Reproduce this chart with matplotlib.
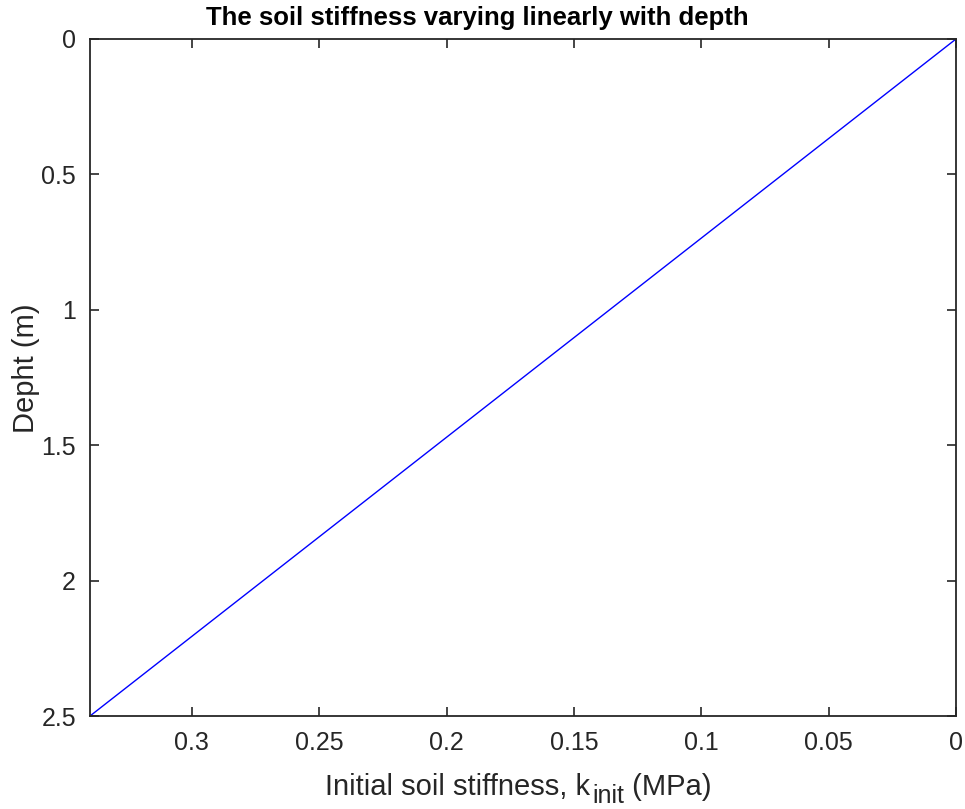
import numpy as np
import matplotlib
matplotlib.use('Agg')
import matplotlib.pyplot as plt
from matplotlib.transforms import IdentityTransform

plt.rcParams['font.family'] = ['Liberation Sans', 'DejaVu Sans']

# soil stiffness (MPa) at depth (m)
stiffness = [0.0, 0.34]
depth = [0.0, 2.5]
x_ticks = [0, 0.05, 0.1, 0.15, 0.2, 0.25, 0.3]
x_tick_labels = ['0', '0.05', '0.1', '0.15', '0.2', '0.25', '0.3']
y_ticks = [0, 0.5, 1, 1.5, 2, 2.5]
y_tick_labels = ['0', '0.5', '1', '1.5', '2', '2.5']

W, H = 965, 809
fig = plt.figure(figsize=(W / 100, H / 100), dpi=100)
ax = fig.add_axes([90 / W, 1 - 716 / H, (956 - 90) / W, (716 - 39) / H])

ax.plot(stiffness, depth, color='#0000ff', linewidth=1.0)

ax.set_xlim(0.34, 0)
ax.set_ylim(2.5, 0)
ax.set_xticks(x_ticks)
ax.set_xticklabels(x_tick_labels)
ax.set_yticks(y_ticks)
ax.set_yticklabels(y_tick_labels)

ax.tick_params(direction='in', length=6.5, width=1.2, top=True, right=True,
               labelsize=18, colors='#262626')
ax.tick_params(axis='x', pad=11)
ax.tick_params(axis='y', pad=10)
for s in ax.spines.values():
    s.set_linewidth(1.3)
    s.set_color('#262626')

ax.set_ylabel('Depht (m)', fontsize=21, color='#262626', labelpad=1)
ax.yaxis.label.set_y(0.514)

# title centred on the figure, like the original
fig.text(477.5 / W, 1 - 25 / H, 'The soil stiffness varying linearly with depth',
         fontsize=18.5, fontweight='bold', ha='center', va='baseline', color='black')

# x label with a large, MATLAB-like subscript
base_x, base_y = 325, H - 795
t1 = fig.text(base_x, base_y, 'Initial soil stiffness, k', fontsize=21, color='#262626',
              ha='left', va='baseline', transform=IdentityTransform())
fig.canvas.draw()
r = fig.canvas.get_renderer()
x1 = t1.get_window_extent(r).x1
t2 = fig.text(x1 + 2, base_y - 8, 'init', fontsize=18, color='#262626',
              ha='left', va='baseline', transform=IdentityTransform())
fig.canvas.draw()
x2 = t2.get_window_extent(r).x1
fig.text(x2, base_y, ' (MPa)', fontsize=21, color='#262626',
         ha='left', va='baseline', transform=IdentityTransform())

fig.savefig('out.png', dpi=100)
